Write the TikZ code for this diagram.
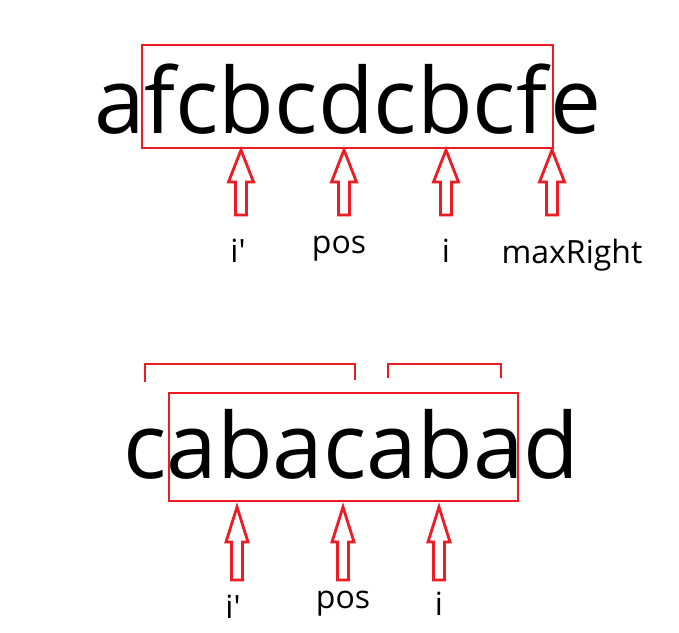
\documentclass[tikz,border=0pt]{standalone}
\usepackage{fontspec}
\setmainfont{Open Sans}
\definecolor{mkred}{RGB}{237,28,36}

\begin{document}
\begin{tikzpicture}[x=1pt,y=-1pt,
	bigword/.style={anchor=base west,inner sep=0pt,font=\fontsize{91}{91}\selectfont},
	lbl/.style={anchor=base,inner sep=0pt,font=\fontsize{32}{32}\selectfont},
	frame/.style={draw=mkred,line width=2.8pt},
	blockarr/.style={draw=mkred,line width=2.8pt,fill=white,line join=miter}]
			\useasboundingbox (0,0) rectangle (679,632);

			% first string
			\node[bigword] (wordA) at (94,133) {afcbcdcbcf\kern3pt e};
			\draw [frame] (142,45) rectangle (553,148);

			% arrows under the first string
			\foreach \x in {241,344,446,552}
				\draw [blockarr] (\x,150) -- ++(12.5,32) -- ++(-7,0) -- ++(0,33) -- ++(-11,0) -- ++(0,-33) -- ++(-7,0) -- cycle;

			% labels of the first string
			\node[lbl] (ipA) at (238,262) {i\textquotesingle};
			\node[lbl] (posA) at (339,253) {pos};
			\node[lbl] (iA) at (446,262) {i};
			\node[lbl] (maxR) at (572,263) {maxRight};

			% second string
			\node[bigword] (wordB) at (123,478) {cabacabad};
			\draw [frame] (169,393) rectangle (518,501);

			% brackets
			\draw [frame] (145,382) |- (355,364) -- (355,380);
			\draw [frame] (388,378) |- (501,364) -- (501,378);

			% arrows under the second string
			\foreach \x in {237,343,439}
				\draw [blockarr] (\x,507) -- ++(11,35) -- ++(-5.5,0) -- ++(0,38) -- ++(-11,0) -- ++(0,-38) -- ++(-5.5,0) -- cycle;

			% labels of the second string
			\node[lbl] (ipB) at (233,618) {i\textquotesingle};
			\node[lbl] (posB) at (343,608) {pos};
			\node[lbl] (iB) at (439,615) {i};
		\end{tikzpicture}
\end{document}
